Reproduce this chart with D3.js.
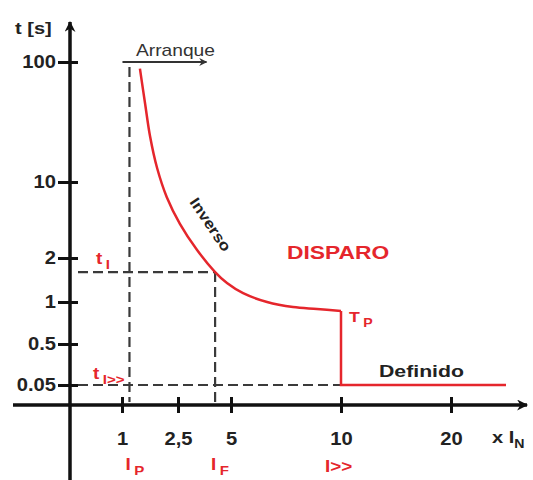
<!DOCTYPE html>
<html>
<head>
<meta charset="utf-8">
<script src="https://cdn.jsdelivr.net/npm/d3@7"></script>
<style>
	body { margin: 0; background: #fff; }
	text { font-family: "Liberation Sans", Arial, sans-serif; }
</style>
</head>
<body>
<div id="chart"></div>
<script>

// data
const xTicks = [ 1, 2.5, 5, 10, 20 ];
const xTickLabels = [ "1", "2,5", "5", "10", "20" ];
const yTicks = [ 0.05, 0.5, 1, 2, 10, 100 ];
const yTickLabels = [ "0.05", "0.5", "1", "2", "10", "100" ];

// inverse curve (multiples of In, seconds)
const curveI = [ 1.48, 1.62, 1.75, 1.94, 2.2, 2.59, 3.40, 4.25, 4.81, 5.55, 6.64, 7.82, 8.91, 10 ];
const curveT = [ 95, 68.5, 44.5, 20.5, 8.4, 5.6, 2.84, 1.68, 1.43, 1.2, 1.0, 0.94, 0.917, 0.893 ];

// definite time part
const defI = [ 10, 10, 25 ];
const defT = [ 0.893, 0.05, 0.05 ];

const Ip = 1.2, IF = 4.25, Ihigh = 10;
const tI = 1.68, tIhigh = 0.05;
const arranqueT = 100;

///////////////////////////////////////////////////////////////////////

const width = 533, height = 480;
const RED = "#e5262c", INK = "#111", DASH = "#3a3a3a";
const SX = 1.12;	// picture is a bit wide

const svg = d3.select( "#chart" ).append( "svg" )
	.attr( "width", width )
	.attr( "height", height );

// schematic (non uniform) scales, piecewise
const x = d3.scaleLinear()
	.domain( [ 0, 1, 2.5, 5, 10, 20, 26 ] )
	.range( [ 70, 122, 178, 231, 341, 451, 517 ] );
const y = d3.scaleLinear()
	.domain( [ 0, 0.05, 0.5, 1, 2, 10, 100 ] )
	.range( [ 405, 385, 344, 302, 258, 182, 62 ] );

const defs = svg.append( "defs" );
function arrow( id, color, w, h ) {
	defs.append( "marker" )
		.attr( "id", id )
		.attr( "viewBox", "0 0 10 10" )
		.attr( "refX", 9 ).attr( "refY", 5 )
		.attr( "markerUnits", "userSpaceOnUse" )
		.attr( "markerWidth", w ).attr( "markerHeight", h )
		.attr( "orient", "auto" )
		.append( "path" )
			.attr( "d", "M0,0 L10,5 L0,10 L3,5 Z" )
			.attr( "fill", color );
}
arrow( "ax", INK, 13, 11 );
arrow( "small", "#333", 10, 8 );

function label( g, tx, ty, txt, size, color, weight, sx = 1.18 ) {
	return g.append( "text" )
		.attr( "transform", "translate(" + tx + "," + ty + ") scale(" + sx + ",1)" )
		.attr( "font-size", size )
		.attr( "font-weight", weight )
		.attr( "fill", color )
		.text( txt );
}
function subLabel( g, tx, ty, main, sub, size, color ) {
	let t = label( g, tx, ty, main, size, color, "bold" );
	t.append( "tspan" )
		.attr( "dx", 3 )
		.attr( "dy", 5 )
		.attr( "font-size", size * 0.8 )
		.text( sub );
	return t;
}

// dashed guide lines
const guides = svg.append( "g" )
	.attr( "stroke", DASH )
	.attr( "stroke-width", 2.2 )
	.attr( "stroke-dasharray", "10,5" )
	.attr( "fill", "none" );
guides.append( "line" )
	.attr( "x1", x( Ip ) ).attr( "x2", x( Ip ) )
	.attr( "y1", y( arranqueT ) + 5 ).attr( "y2", y( 0 ) - 3 );
guides.append( "line" )
	.attr( "x1", x( IF ) ).attr( "x2", x( IF ) )
	.attr( "y1", y( tI ) ).attr( "y2", y( 0 ) - 3 );
guides.append( "line" )
	.attr( "x1", x( 0 ) + 8 ).attr( "x2", x( IF ) )
	.attr( "y1", y( tI ) ).attr( "y2", y( tI ) );
guides.append( "line" )
	.attr( "x1", x( 0 ) + 8 ).attr( "x2", x( Ihigh ) )
	.attr( "y1", y( tIhigh ) ).attr( "y2", y( tIhigh ) );

// axes
const xAxis = d3.axisBottom( x )
	.tickValues( xTicks )
	.tickFormat( ( d, i ) => xTickLabels[ i ] )
	.tickSize( 8 )
	.tickPadding( 19 );
const gx = svg.append( "g" )
	.attr( "transform", "translate(0," + y( 0 ) + ")" )
	.call( xAxis );
gx.select( ".domain" ).remove();
gx.selectAll( ".tick line" )
	.attr( "y1", -8 ).attr( "stroke", INK ).attr( "stroke-width", 3 );
gx.selectAll( ".tick text" )
	.attr( "font-size", 18 ).attr( "font-weight", "bold" )
	.attr( "fill", "#222" )
	.attr( "font-family", "Liberation Sans, Arial, sans-serif" )
	.attr( "transform", "scale(" + SX + ",1)" );

const yAxis = d3.axisLeft( y )
	.tickValues( yTicks )
	.tickFormat( ( d, i ) => yTickLabels[ i ] )
	.tickSize( 12 );
const gy = svg.append( "g" )
	.attr( "transform", "translate(" + x( 0 ) + ",0)" )
	.call( yAxis );
gy.select( ".domain" ).remove();
gy.selectAll( ".tick line" )
	.attr( "x1", 8 ).attr( "stroke", INK ).attr( "stroke-width", 3 );
gy.selectAll( ".tick text" )
	.attr( "font-size", 18 ).attr( "font-weight", "bold" )
	.attr( "fill", "#222" )
	.attr( "font-family", "Liberation Sans, Arial, sans-serif" )
	.attr( "x", -14 / SX )
	.attr( "transform", "scale(" + SX + ",1)" );

svg.append( "line" )
	.attr( "x1", 13 ).attr( "x2", x( 26 ) + 10 )
	.attr( "y1", y( 0 ) ).attr( "y2", y( 0 ) )
	.attr( "stroke", INK ).attr( "stroke-width", 3.5 )
	.attr( "marker-end", "url(#ax)" );
svg.append( "line" )
	.attr( "x1", x( 0 ) ).attr( "x2", x( 0 ) )
	.attr( "y1", height ).attr( "y2", 22 )
	.attr( "stroke", INK ).attr( "stroke-width", 3.5 )
	.attr( "marker-end", "url(#ax)" );

// Arranque arrow
svg.append( "line" )
	.attr( "x1", x( Ip ) - 7 ).attr( "x2", x( Ip ) + 77 )
	.attr( "y1", y( arranqueT ) ).attr( "y2", y( arranqueT ) )
	.attr( "stroke", "#333" ).attr( "stroke-width", 2 )
	.attr( "marker-end", "url(#small)" );

// tripping characteristic
svg.append( "path" )
	.datum( curveI.map( ( v, i ) => [ v, curveT[ i ] ] ) )
	.attr( "d", d3.line()
		.curve( d3.curveCatmullRom )
		.x( d => x( d[ 0 ] ) )
		.y( d => y( d[ 1 ] ) )
	)
	.attr( "fill", "none" )
	.attr( "stroke", RED )
	.attr( "stroke-width", 2.5 );
svg.append( "path" )
	.datum( defI.map( ( v, i ) => [ v, defT[ i ] ] ) )
	.attr( "d", d3.line().x( d => x( d[ 0 ] ) ).y( d => y( d[ 1 ] ) ) )
	.attr( "fill", "none" )
	.attr( "stroke", RED )
	.attr( "stroke-width", 2.5 );

// texts
const txt = svg.append( "g" );
label( txt, 15, 34, "t [s]", 17, "#222", "bold" );
label( txt, 492, 443, "x I", 17, "#222", "bold" )
	.append( "tspan" ).attr( "dy", 5 ).attr( "font-size", 12 ).text( "N" );
label( txt, 136, 56, "Arranque", 16, "#333", "normal", 1.2 );
label( txt, 287, 259, "DISPARO", 19, RED, "bold", 1.2 );
label( txt, 379, 377, "Definido", 17, "#222", "bold", 1.25 );
txt.append( "text" )
	.attr( "transform", "translate(189,202) rotate(56) scale(1.15,1)" )
	.attr( "font-size", 15 ).attr( "font-weight", "bold" ).attr( "fill", "#222" )
	.text( "Inverso" );

subLabel( txt, 349, 322, "T", "P", 15, RED );
subLabel( txt, 96, 264, "t", "I", 16, RED );
subLabel( txt, 93, 379, "t", "I>>", 16, RED );
subLabel( txt, x( Ip ) - 4, 470, "I", "P", 16, RED );
subLabel( txt, x( IF ) - 4, 470, "I", "F", 16, RED );
label( txt, x( Ihigh ) - 16, 472, "I>>", 16, RED, "bold" );

</script>
</body>
</html>
